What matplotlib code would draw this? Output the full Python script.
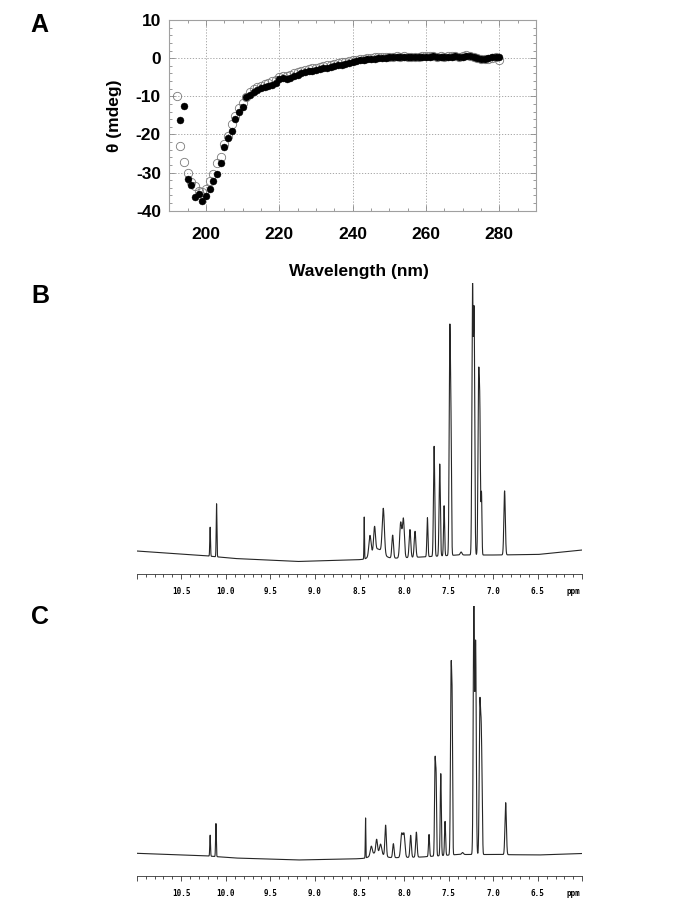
import numpy as np
import matplotlib.pyplot as plt
from matplotlib.ticker import MultipleLocator

plt.rcParams['font.family'] = ['Liberation Sans', 'DejaVu Sans']
plt.rcParams['axes.unicode_minus'] = False

# ---------------- A: CD spectrum ----------------
wl_open = np.arange(192, 281)
cd_open = [-10.0, -23.0, -27.3, -30.0, -32.5, -33.6, -34.8, -35.0, -34.4, -32.2,
           -30.5, -27.4, -25.9, -22.4, -20.4, -17.3, -15.2, -13.0, -11.8, -10.3,
           -8.9, -8.1, -7.6, -7.2, -6.9, -6.5, -6.1, -5.7, -5.0, -4.8,
           -4.7, -4.4, -4.0, -3.7, -3.4, -3.1, -2.9, -2.7, -2.5, -2.3,
           -2.1, -1.9, -1.7, -1.5, -1.3, -1.1, -0.9, -0.7, -0.5, -0.4,
           -0.2, -0.1, 0.0, 0.1, 0.2, 0.2, 0.3, 0.3, 0.4, 0.4,
           0.5, 0.4, 0.6, 0.4, 0.3, 0.3, 0.4, 0.5, 0.5, 0.6,
           0.5, 0.4, 0.5, 0.4, 0.5, 0.6, 0.5, 0.4, 0.6, 0.7,
           0.6, 0.3, 0.0, -0.2, -0.3, -0.1, 0.1, 0.2, -0.4]

wl_filled = np.arange(193, 281)
cd_filled = [-16.3, -12.5, -31.7, -33.3, -36.5, -35.6, -37.5, -36.1, -34.3, -32.1,
             -30.5, -27.5, -23.4, -20.9, -19.0, -16.0, -14.2, -12.7, -10.3, -9.6,
             -8.9, -8.4, -7.9, -7.6, -7.3, -7.1, -6.5, -5.6, -5.3, -5.5,
             -5.1, -4.6, -4.3, -4.0, -3.7, -3.5, -3.3, -3.1, -2.9, -2.7,
             -2.5, -2.3, -2.1, -1.9, -1.7, -1.5, -1.2, -0.9, -0.7, -0.5,
             -0.4, -0.3, -0.2, -0.1, 0.0, 0.1, 0.1, 0.2, 0.3, 0.3,
             0.2, 0.3, 0.2, 0.2, 0.3, 0.3, 0.4, 0.4, 0.4, 0.5,
             0.4, 0.4, 0.3, 0.4, 0.4, 0.5, 0.4, 0.4, 0.5, 0.6,
             0.4, 0.1, -0.1, -0.1, 0.0, 0.2, 0.3, 0.3]

# ---------------- B / C: 1H NMR (peak tables) ----------------
base_ppm = [11.0, 10.5, 10.2, 9.9, 9.2, 8.6, 8.45, 7.8, 7.4, 7.0, 6.5, 6.0]

b_base = [23, 20, 18, 15.5, 12.5, 14, 14.5, 17, 19, 19, 19.5, 24]
b_pk_ppm = [10.176, 10.104, 8.447, 8.383, 8.331, 8.300, 8.233, 8.128, 8.038, 8.008,
            7.934, 7.877, 7.738, 7.663, 7.600, 7.551, 7.487, 7.474, 7.36, 7.232,
            7.214, 7.164, 7.150, 7.131, 6.872]
b_pk_h = [29, 53, 42, 20, 24, 10, 45, 23, 35, 39,
          28, 26, 39, 110, 92, 50, 218, 115, 3, 263,
          238, 163, 135, 60, 64]
b_pk_s = [0.004, 0.004, 0.003, 0.012, 0.010, 0.06, 0.012, 0.009, 0.011, 0.011,
          0.009, 0.009, 0.006, 0.007, 0.007, 0.006, 0.007, 0.006, 0.01, 0.007,
          0.007, 0.007, 0.007, 0.005, 0.008]

c_base = [22.7, 21, 20, 18, 16, 17, 17.5, 19, 21.5, 21.5, 21, 22.5]
c_pk_ppm = [10.176, 10.111, 8.432, 8.368, 8.308, 8.300, 8.263, 8.207, 8.12, 8.027,
            8.001, 7.926, 7.862, 7.72, 7.652, 7.640, 7.588, 7.54, 7.472, 7.460,
            7.344, 7.217, 7.197, 7.150, 7.135, 7.124, 6.86]
c_pk_h = [21, 33, 40, 9, 13, 6, 9, 31, 14, 23,
          23, 22, 25, 22, 95, 70, 82, 34, 186, 115,
          2, 245, 210, 142, 117, 40, 52]
c_pk_s = [0.004, 0.004, 0.003, 0.011, 0.009, 0.06, 0.011, 0.008, 0.008, 0.011,
          0.011, 0.008, 0.008, 0.006, 0.006, 0.005, 0.006, 0.006, 0.007, 0.005,
          0.01, 0.007, 0.007, 0.007, 0.007, 0.005, 0.008]

nmr_ticks = [11.0, 10.5, 10.0, 9.5, 9.0, 8.5, 8.0, 7.5, 7.0, 6.5, 6.0]
nmr_tick_labels = ['', '10.5', '10.0', '9.5', '9.0', '8.5', '8.0', '7.5', '7.0', '6.5', '']


def spectrum(x, base, pk_ppm, pk_h, pk_s):
    y = np.interp(x, base_ppm[::-1], base[::-1])
    for p, h, s in zip(pk_ppm, pk_h, pk_s):
        y = y + h * np.exp(-0.5 * ((x - p) / s) ** 2)
    return y


W, H = 685, 913
fig = plt.figure(figsize=(W / 100, H / 100), dpi=100)


def px_axes(left, top, right, bottom):
    return fig.add_axes([left / W, 1 - bottom / H, (right - left) / W, (bottom - top) / H])


# panel A
ax = px_axes(169.3, 20, 536, 210.7)
ax.plot(wl_open, cd_open, 'o', ms=6.0, mfc='none', mec='#7a7a7a', mew=0.6, zorder=2)
ax.plot(wl_filled, cd_filled, 'o', ms=5.0, mfc='black', mec='black', mew=0.3, zorder=3)
ax.set_xlim(190, 290)
ax.set_ylim(-40, 10)
ax.xaxis.set_major_locator(MultipleLocator(20))
ax.xaxis.set_minor_locator(MultipleLocator(5))
ax.yaxis.set_major_locator(MultipleLocator(10))
ax.yaxis.set_minor_locator(MultipleLocator(2))
ax.tick_params(which='both', direction='in', top=True, right=True, color='#8a8a8a', width=0.6)
ax.tick_params(which='major', length=4)
ax.tick_params(which='minor', length=2.5)
ax.tick_params(axis='x', which='major', pad=12)
ax.tick_params(axis='y', which='major', pad=6)
for lab in ax.get_xticklabels() + ax.get_yticklabels():
    lab.set_fontsize(12.5)
    lab.set_fontweight('bold')
for s in ax.spines.values():
    s.set_color('#a0a0a0')
    s.set_linewidth(0.8)
ax.grid(True, which='major', linestyle=(0, (1.5, 2)), color='#9a9a9a', lw=0.6)
fig.text(359 / W, 1 - 271.7 / H, 'Wavelength (nm)', ha='center', va='center',
         fontsize=12.5, fontweight='bold')
fig.text(114 / W, 1 - 115.5 / H, 'θ (mdeg)', ha='center', va='center', rotation=90,
         fontsize=12.5, fontweight='bold')

# panels B, C
ppm = np.linspace(11.0, 6.0, 20000)
for (top, bottom, base, pk_ppm, pk_h, pk_s) in [
        (283, 574, b_base, b_pk_ppm, b_pk_h, b_pk_s),
        (606, 876, c_base, c_pk_ppm, c_pk_h, c_pk_s)]:
    axn = px_axes(136.7, top, 582.3, bottom)
    axn.plot(ppm, spectrum(ppm, base, pk_ppm, pk_h, pk_s), color='#262626', lw=0.8)
    axn.set_xlim(11.0, 6.0)
    axn.set_ylim(0, bottom - top)
    for side in ['top', 'left', 'right']:
        axn.spines[side].set_visible(False)
    axn.spines['bottom'].set_color('#333333')
    axn.spines['bottom'].set_linewidth(0.6)
    axn.set_yticks([])
    axn.set_xticks(nmr_ticks)
    axn.set_xticklabels(nmr_tick_labels, family='DejaVu Sans Mono', fontsize=5.5,
                        fontweight='bold')
    axn.xaxis.set_minor_locator(MultipleLocator(0.1))
    axn.tick_params(which='both', direction='out', color='#333333', width=0.6)
    axn.tick_params(which='major', length=3.5, pad=5.5)
    axn.tick_params(which='minor', length=2.2)
    axn.annotate('ppm', xy=(6.1, 0), xycoords=axn.get_xaxis_transform(),
                 xytext=(0, -9), textcoords='offset points', ha='center', va='top',
                 family='DejaVu Sans Mono', fontsize=5.5, fontweight='bold')

for lab, x, y in [('A', 39, 25), ('B', 40, 296), ('C', 40, 617)]:
    fig.text(x / W, 1 - y / H, lab, ha='center', va='center', fontsize=18, fontweight='bold')

fig.savefig('out.png', dpi=100)
